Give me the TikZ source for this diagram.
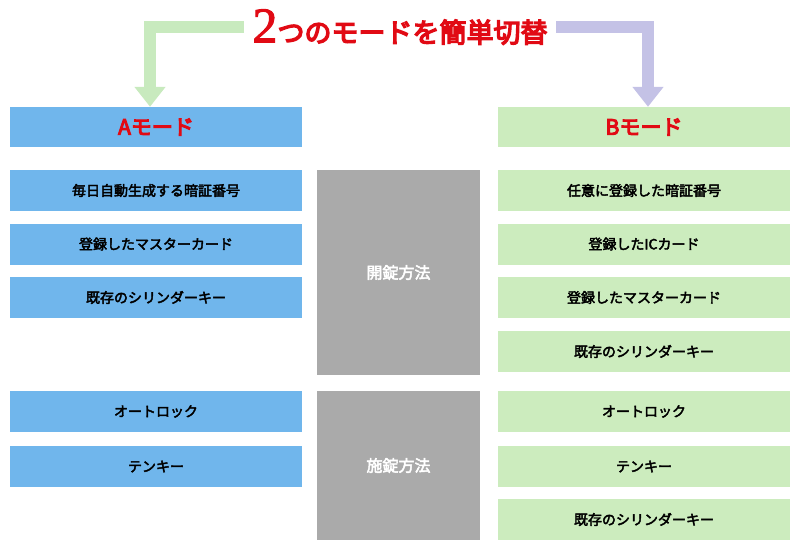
\documentclass[tikz,border=0pt]{standalone}
\usepackage{fontspec}
\setmainfont{Noto Sans CJK JP}[AutoFakeBold=3]
\newfontfamily\cjkb{Noto Sans CJK JP}[AutoFakeBold=5]
\newfontfamily\twofont{Liberation Serif}[AutoFakeBold=2,AutoFakeSlant=0.15]
\definecolor{ablue}{RGB}{112,182,236}
\definecolor{bgreen}{RGB}{204,236,190}
\definecolor{agreen}{RGB}{200,234,190}
\definecolor{bpurp}{RGB}{196,194,230}
\definecolor{gbox}{RGB}{170,170,170}
\definecolor{tred}{RGB}{225,10,20}
\usetikzlibrary{arrows.meta}
\begin{document}
\begin{tikzpicture}[x=1pt,y=-1pt,
  item/.style={fill=#1,minimum width=292pt,minimum height=41pt,inner sep=0,font=\bfseries\fontsize{14}{16}\selectfont},
  gray/.style={fill=gbox,minimum width=163pt,inner sep=0,text=white,font=\bfseries\fontsize{16}{18}\selectfont},
  head/.style={fill=#1,minimum width=292pt,minimum height=40pt,inner sep=0,text=tred,font=\cjkb\bfseries\fontsize{21}{23}\selectfont}]
\useasboundingbox (0,0) rectangle (800,548);
\node[anchor=center,text=tred,inner sep=0] (t) at (400,27) {\twofont\bfseries\fontsize{50}{50}\selectfont 2\cjkb\bfseries\fontsize{27}{29}\selectfont つのモードを簡単切替};
\node[head=ablue] (ha) at (156,127) {Aモード};
\node[head=bgreen] (hb) at (644,127) {Bモード};
\coordinate (al) at (244,27);
\coordinate (ar) at (556,27);
\draw[agreen,line width=12pt,-{Triangle[length=20pt,width=30pt]}] (al) -- (150,27) -- (ha.north -| 150,0);
\draw[bpurp,line width=12pt,-{Triangle[length=20pt,width=30pt]}] (ar) -- (648,27) -- (hb.north -| 648,0);
\node[item=ablue] (a1) at (156,190.5) {毎日自動生成する暗証番号};
\node[item=ablue] (a2) at (156,244) {登録したマスターカード};
\node[item=ablue] (a3) at (156,297.5) {既存のシリンダーキー};
\node[item=ablue] (a4) at (156,411.5) {オートロック};
\node[item=ablue] (a5) at (156,466.5) {テンキー};
\node[item=bgreen] (b1) at (644,190.5) {任意に登録した暗証番号};
\node[item=bgreen] (b2) at (644,244) {登録したICカード};
\node[item=bgreen] (b3) at (644,297.5) {登録したマスターカード};
\node[item=bgreen] (b4) at (644,351.5) {既存のシリンダーキー};
\node[item=bgreen] (b5) at (644,411.5) {オートロック};
\node[item=bgreen] (b6) at (644,466.5) {テンキー};
\node[item=bgreen] (b7) at (644,519.5) {既存のシリンダーキー};
\node[gray,minimum height=205pt] (g1) at (398.5,272.5) {開錠方法};
\node[gray,minimum height=149pt] (g2) at (398.5,465.5) {施錠方法};
\end{tikzpicture}
\end{document}
